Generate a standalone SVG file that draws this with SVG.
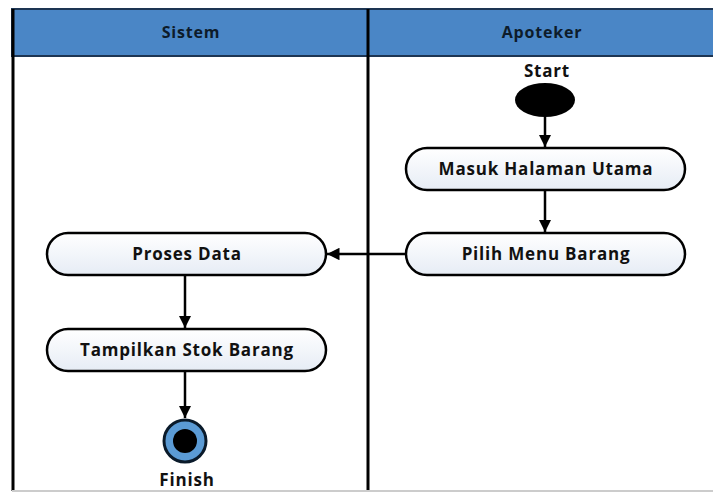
<svg xmlns="http://www.w3.org/2000/svg" width="713" height="493" viewBox="0 0 713 493">
<defs>
<linearGradient id="nf" x1="0" y1="0" x2="0" y2="1">
<stop offset="0" stop-color="#ffffff"/>
<stop offset="1" stop-color="#e6ecf5"/>
</linearGradient>
<marker id="ah" viewBox="0 0 10 10" refX="10" refY="5" markerWidth="5" markerHeight="5" orient="auto" markerUnits="strokeWidth">
<path d="M0,0 L10,5 L0,10 z" fill="#000"/>
</marker>
<style>
.node{fill:url(#nf);stroke:#000;stroke-width:2.5}
.lbl{font-family:"Open Sans","Liberation Sans",sans-serif;font-weight:bold;font-size:17px;letter-spacing:0.8px;fill:#111;text-anchor:middle}
.hdr{font-family:"Open Sans","Liberation Sans",sans-serif;font-weight:bold;font-size:16px;letter-spacing:0.8px;fill:#0d1b2a;text-anchor:middle}
.conn{stroke:#000;stroke-width:2.5;fill:none;marker-end:url(#ah)}
</style>
</defs>
<rect width="713" height="493" fill="#fff"/>
<g id="lanes">
<rect x="12" y="9" width="702" height="47" fill="#4a86c6" stroke="#1d3553" stroke-width="2"/>
<line x1="13" y1="9" x2="13" y2="491" stroke="#000" stroke-width="3"/>
<line x1="368" y1="9" x2="368" y2="491" stroke="#000" stroke-width="3"/>
<line x1="12" y1="491" x2="713" y2="491" stroke="#cccccc" stroke-width="2"/>
<text class="hdr" x="191" y="38">Sistem</text>
<text class="hdr" x="542" y="38">Apoteker</text>
</g>
<g id="start">
<text class="lbl" x="547" y="77">Start</text>
<ellipse cx="545" cy="100" rx="30" ry="17" fill="#000"/>
</g>
<g id="masuk">
<rect class="node" x="406" y="148" width="279" height="42" rx="21"/>
<text class="lbl" x="546" y="175">Masuk Halaman Utama</text>
</g>
<g id="pilih">
<rect class="node" x="406" y="233" width="279" height="42" rx="21"/>
<text class="lbl" x="546" y="260">Pilih Menu Barang</text>
</g>
<g id="proses">
<rect class="node" x="47" y="233" width="279" height="42" rx="21"/>
<text class="lbl" x="187" y="260">Proses Data</text>
</g>
<g id="tampilkan">
<rect class="node" x="47" y="329" width="279" height="42" rx="21"/>
<text class="lbl" x="187" y="356">Tampilkan Stok Barang</text>
</g>
<g id="finish">
<circle cx="185" cy="441" r="21" fill="#5b9bd5" stroke="#0a1a2a" stroke-width="3"/>
<circle cx="185" cy="441" r="12" fill="#000"/>
<text class="lbl" x="187" y="486">Finish</text>
</g>
<g id="connectors">
<line class="conn" x1="545" y1="117" x2="545" y2="147"/>
<line class="conn" x1="545" y1="190" x2="545" y2="232"/>
<line class="conn" x1="406" y1="254" x2="327" y2="254"/>
<line class="conn" x1="185" y1="275" x2="185" y2="328"/>
<line class="conn" x1="185" y1="371" x2="185" y2="418"/>
</g>
</svg>
